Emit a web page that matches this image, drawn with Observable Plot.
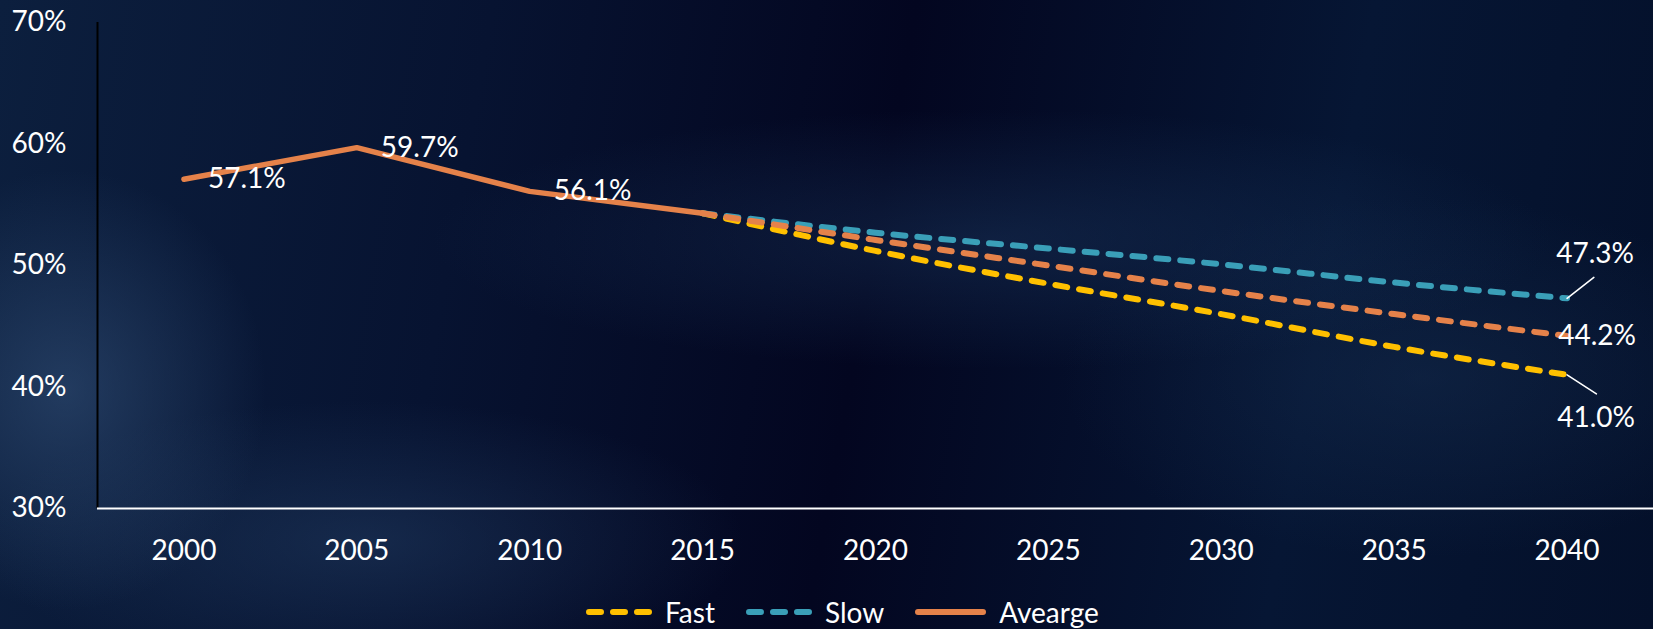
<!DOCTYPE html>
<html>
<head>
<meta charset="utf-8">
<script src="https://cdn.jsdelivr.net/npm/d3@7"></script>
<script src="https://cdn.jsdelivr.net/npm/@observablehq/plot@0.6"></script>
<style>
  html, body { margin: 0; padding: 0; width: 1653px; height: 629px; overflow: hidden; }
  body {
    font-family: Lato, "Open Sans", sans-serif;
    color: white;
    background-color: #040a26;
    background-image:
      radial-gradient(ellipse 200px 220px at 4% 62%, rgba(50, 80, 120, 0.6), rgba(50, 80, 120, 0) 100%),
      radial-gradient(ellipse 380px 140px at 22% 86%, rgba(35, 62, 100, 0.5), rgba(35, 62, 100, 0) 100%),
      radial-gradient(ellipse 560px 130px at 60% 38%, rgba(28, 58, 98, 0.45), rgba(28, 58, 98, 0) 100%),
      radial-gradient(ellipse 360px 180px at 86% 60%, rgba(25, 50, 85, 0.4), rgba(25, 50, 85, 0) 100%),
      linear-gradient(100deg, #0c1f3e 0%, #071331 28%, #030620 52%, #061634 78%, #04102a 100%);
  }
  #chart svg { display: block; }
  #legend {
    height: 49px; box-sizing: border-box; padding-top: 14px;
    display: flex; justify-content: flex-start; align-items: center;
    font-size: 28px; line-height: 30px; padding-left: 586px;
  }
  .item { display: flex; align-items: center; margin-right: 31px; }
  .item svg { margin-right: 13px; }
</style>
</head>
<body>
<div id="chart"></div>
<div id="legend"></div>
<script>
// ---- data ----
const years = [2000, 2005, 2010, 2015, 2020, 2025, 2030, 2035, 2040];
const averageValues = [57.1, 59.7, 56.1, 54.3, 52.1, 50.0, 47.9, 46.0, 44.2];
const fastValues = [null, null, null, 54.3, 51.2, 48.5, 46.0, 43.3, 41.0];
const slowValues = [null, null, null, 54.3, 52.7, 51.4, 50.1, 48.6, 47.3];
const yTicks = [30, 40, 50, 60, 70];
const seriesNames = ["Fast", "Slow", "Avearge"];
const seriesColors = ["#FFC000", "#3A9FB8", "#E5824A"];
const historyLabelYears = [2000, 2005, 2010];
const projectionStart = 2015;

// ---- build tables ----
const toRows = (vals, name) => years.map((year, i) => ({year, value: vals[i], name})).filter(d => d.value != null);
const fastRows = toRows(fastValues, seriesNames[0]);
const slowRows = toRows(slowValues, seriesNames[1]);
const avgRows = toRows(averageValues, seriesNames[2]);
const avgHist = avgRows.filter(d => d.year <= projectionStart);
const avgProj = avgRows.filter(d => d.year >= projectionStart);
const histLabels = avgRows.filter(d => historyLabelYears.includes(d.year));
const last = rows => [rows[rows.length - 1]];
const fmt = d => d.value.toFixed(1) + "%";

const xDomain = [d3.min(years) - 2.5, d3.max(years) + 2.5];
const yDomain = [d3.min(yTicks), d3.max(yTicks)];

const dashed = {strokeWidth: 6, strokeDasharray: "12,12", strokeLinecap: "round", curve: "monotone-x"};
const leader = {draw(context, l) { context.moveTo(0, 0); context.lineTo(0, -l); }};

const chart = Plot.plot({
  width: 1653,
  height: 580,
  marginLeft: 97,
  marginRight: 0,
  marginTop: 22,
  marginBottom: 72,
  x: {domain: xDomain},
  y: {domain: yDomain},
  style: {background: "transparent", color: "white", fontFamily: "Lato, 'Open Sans', sans-serif", fontSize: "28px", overflow: "visible"},
  marks: [
    Plot.axisY({ticks: yTicks, tickFormat: d => d + "%", tickSize: 0, tickPadding: 31, label: null, fill: "white"}),
    Plot.axisX({ticks: years, tickFormat: d => String(d), tickSize: 0, tickPadding: 32, label: null, fill: "white"}),
    Plot.ruleX([xDomain[0]], {stroke: "black", strokeWidth: 2}),
    Plot.ruleY([yDomain[0]], {stroke: "white", strokeWidth: 2}),
    Plot.line(fastRows, {x: "year", y: "value", stroke: seriesColors[0], ...dashed}),
    Plot.line(slowRows, {x: "year", y: "value", stroke: seriesColors[1], ...dashed}),
    Plot.line(avgProj, {x: "year", y: "value", stroke: seriesColors[2], ...dashed}),
    Plot.line(avgHist, {x: "year", y: "value", stroke: seriesColors[2], strokeWidth: 5.5, strokeLinecap: "round", strokeLinejoin: "round"}),
    Plot.text(histLabels, {x: "year", y: "value", text: fmt, textAnchor: "start", dx: 24, fill: "white"}),
    Plot.text(last(slowRows), {x: "year", y: "value", text: fmt, dx: 28, dy: -44, fill: "white"}),
    Plot.text(last(avgRows), {x: "year", y: "value", text: fmt, dx: 30, dy: 0, fill: "white"}),
    Plot.text(last(fastRows), {x: "year", y: "value", text: fmt, dx: 29, dy: 43, fill: "white"}),
    Plot.vector(last(slowRows), {x: "year", y: "value", length: 34, rotate: 52, anchor: "start", shape: leader, stroke: "white", strokeWidth: 1.6}),
    Plot.vector(last(fastRows), {x: "year", y: "value", length: 35, rotate: 123, anchor: "start", shape: leader, stroke: "white", strokeWidth: 1.6})
  ]
});
document.getElementById("chart").append(chart);

// ---- legend ----
const legend = d3.select("#legend");
seriesNames.forEach((name, i) => {
  const isDashed = i < 2;
  const w = isDashed ? 66 : 71;
  const item = legend.append("div").attr("class", "item");
  const sw = item.append("svg").attr("width", w).attr("height", 12);
  sw.append("line").attr("x1", 3).attr("x2", w - 3).attr("y1", 6).attr("y2", 6)
    .attr("stroke", seriesColors[i]).attr("stroke-width", 6).attr("stroke-linecap", "round")
    .attr("stroke-dasharray", isDashed ? "12,12" : null);
  item.append("span").text(name);
});
</script>
</body>
</html>
